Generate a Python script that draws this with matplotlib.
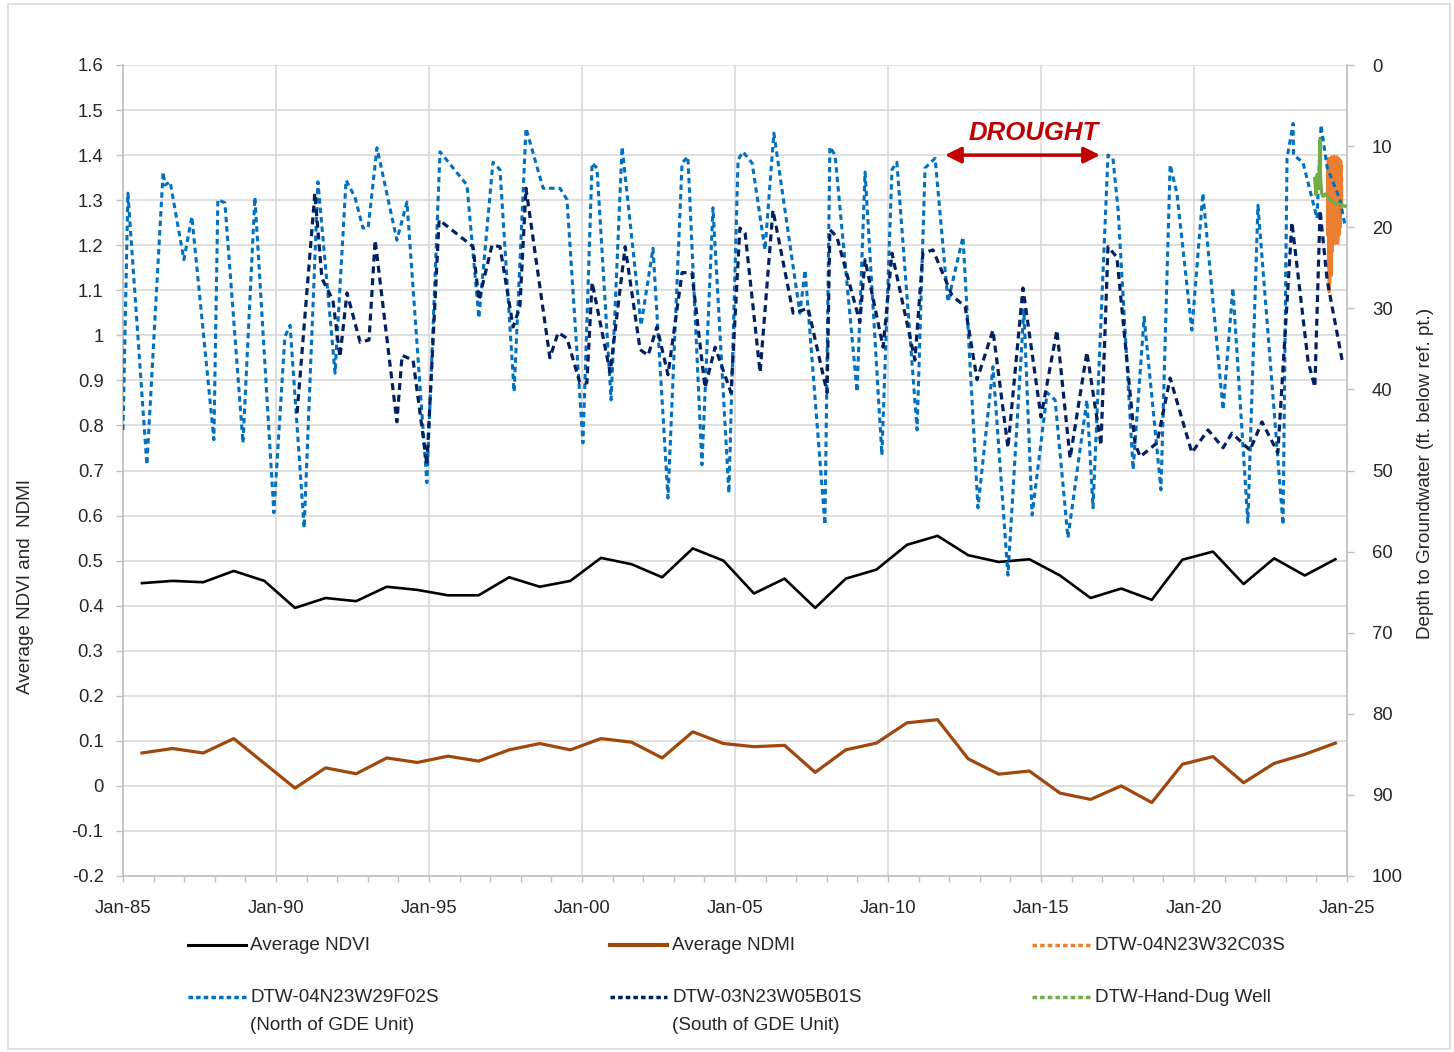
import numpy as np
import matplotlib
matplotlib.use("Agg")
import matplotlib.pyplot as plt
from matplotlib.lines import Line2D
from matplotlib.patches import Rectangle
from matplotlib.ticker import MultipleLocator, FixedLocator

# ---------------- data ----------------
years = np.arange(1985, 2025)
sample_offset = 0.62  # annual composites ~ mid/late summer

ndvi = [0.450, 0.455, 0.452, 0.477, 0.455, 0.395, 0.417, 0.410, 0.442, 0.435,
        0.423, 0.423, 0.463, 0.442, 0.455, 0.506, 0.492, 0.463, 0.527, 0.500,
        0.427, 0.460, 0.395, 0.460, 0.480, 0.535, 0.555, 0.512, 0.497, 0.503,
        0.467, 0.417, 0.438, 0.413, 0.502, 0.520, 0.448, 0.505, 0.467, 0.503]

ndmi = [0.073, 0.083, 0.073, 0.105, 0.050, -0.005, 0.040, 0.027, 0.062, 0.052,
        0.066, 0.055, 0.080, 0.094, 0.080, 0.105, 0.097, 0.062, 0.120, 0.094,
        0.087, 0.090, 0.030, 0.080, 0.095, 0.140, 0.147, 0.060, 0.026, 0.033,
        -0.016, -0.030, 0.000, -0.037, 0.048, 0.065, 0.007, 0.050, 0.070, 0.095]

north_t = [1985.00, 1985.16, 1985.78, 1986.31, 1986.37, 1986.54, 1986.99, 1987.25, 1987.97, 1988.10,
           1988.33, 1988.92, 1989.31, 1989.93, 1990.29, 1990.46, 1990.92, 1991.37, 1991.93, 1992.29,
           1992.58, 1992.84, 1993.01, 1993.30, 1993.95, 1994.28, 1994.93, 1995.36, 1996.24, 1996.63,
           1997.09, 1997.32, 1997.78, 1998.17, 1998.73, 1999.28, 1999.51, 2000.03, 2000.33, 2000.49,
           2000.95, 2001.31, 2001.93, 2002.32, 2002.81, 2003.27, 2003.46, 2003.92, 2004.28, 2004.80,
           2005.10, 2005.26, 2005.56, 2005.98, 2006.27, 2007.12, 2007.29, 2007.94, 2008.10, 2008.27,
           2008.99, 2009.25, 2009.80, 2010.13, 2010.29, 2010.95, 2011.21, 2011.54, 2011.96, 2012.45,
           2012.94, 2013.43, 2013.92, 2014.44, 2014.71, 2015.20, 2015.46, 2015.88, 2016.50, 2016.70,
           2017.19, 2017.35, 2017.52, 2018.01, 2018.37, 2018.92, 2019.22, 2019.44, 2019.93, 2020.29,
           2020.95, 2021.27, 2021.76, 2022.09, 2022.91, 2023.04, 2023.24, 2023.25, 2023.56, 2024.02,
           2024.15, 2024.35, 2024.77, 2024.93]
north_depth = [45.0, 15.8, 49.3, 13.2, 14.8, 14.4, 24.0, 18.7, 46.2, 16.6,
               17.0, 46.6, 16.3, 55.2, 33.5, 32.1, 57.1, 14.4, 38.0, 14.2,
               16.3, 20.1, 20.1, 10.2, 21.6, 16.9, 51.5, 10.7, 14.8, 31.2,
               12.0, 12.9, 40.3, 7.8, 15.2, 15.2, 16.6, 46.6, 12.1, 12.7,
               41.3, 10.1, 32.1, 22.6, 53.4, 12.1, 11.3, 49.3, 17.6, 52.8,
               11.7, 10.7, 12.1, 22.8, 8.4, 30.6, 25.3, 56.7, 10.1, 11.1,
               40.3, 13.2, 48.1, 12.9, 12.0, 45.0, 12.7, 11.5, 29.2, 21.2,
               54.6, 37.2, 62.9, 30.2, 55.5, 40.4, 41.3, 58.3, 41.3, 54.6,
               11.1, 11.5, 17.9, 49.9, 31.1, 52.4, 12.3, 15.8, 32.7, 15.8,
               42.5, 27.5, 56.4, 17.3, 56.7, 11.5, 7.2, 11.1, 12.0, 18.9,
               7.4, 12.6, 16.6, 19.7]

south_t = [1990.69, 1991.27, 1991.50, 1991.86, 1992.09, 1992.32, 1992.75, 1993.04, 1993.24, 1993.95,
           1994.12, 1994.48, 1994.93, 1995.33, 1996.44, 1996.63, 1997.06, 1997.32, 1997.75, 1997.97,
           1998.17, 1998.95, 1999.22, 1999.51, 1999.93, 2000.16, 2000.33, 2000.92, 2001.41, 2001.90,
           2002.16, 2002.45, 2002.81, 2003.27, 2003.59, 2004.02, 2004.35, 2004.87, 2005.16, 2005.33,
           2005.82, 2006.24, 2006.90, 2007.39, 2008.01, 2008.10, 2008.33, 2009.08, 2009.25, 2009.84,
           2010.13, 2010.88, 2011.14, 2011.47, 2012.09, 2012.52, 2012.91, 2013.43, 2013.92, 2014.41,
           2015.00, 2015.52, 2015.95, 2016.50, 2016.96, 2017.19, 2017.48, 2018.07, 2018.24, 2018.79,
           2019.22, 2019.93, 2020.46, 2020.95, 2021.24, 2021.83, 2022.22, 2022.74, 2023.20, 2023.73,
           2023.95, 2024.12, 2024.35, 2024.84]
south_depth = [42.9, 15.8, 26.3, 29.0, 36.0, 28.1, 34.2, 33.9, 21.6, 44.0,
               35.8, 36.4, 49.3, 19.1, 22.4, 29.0, 22.2, 22.4, 32.3, 29.8,
               15.2, 36.1, 33.0, 33.7, 39.2, 39.2, 26.8, 37.9, 22.4, 35.1,
               35.8, 32.3, 38.2, 25.6, 25.6, 39.8, 34.8, 40.4, 20.1, 20.7,
               37.9, 17.9, 30.6, 30.0, 40.4, 20.3, 21.2, 31.7, 24.0, 34.8,
               23.2, 36.4, 23.2, 22.8, 28.4, 29.8, 38.8, 32.7, 47.2, 27.5,
               43.4, 32.7, 48.5, 35.4, 46.9, 22.4, 23.7, 46.6, 48.3, 46.6,
               38.6, 47.8, 45.0, 47.2, 45.4, 47.5, 44.0, 47.8, 19.4, 36.6,
               39.7, 17.9, 26.5, 36.4]

c03s_t = [2024.360, 2024.371, 2024.382, 2024.393, 2024.404, 2024.415, 2024.426, 2024.437, 2024.448, 2024.459,
          2024.470, 2024.481, 2024.492, 2024.503, 2024.514, 2024.525, 2024.536, 2024.547, 2024.558, 2024.569,
          2024.580, 2024.591, 2024.602, 2024.613, 2024.624, 2024.635, 2024.646, 2024.657, 2024.668, 2024.679,
          2024.690, 2024.701, 2024.712, 2024.723, 2024.734, 2024.745, 2024.756, 2024.767, 2024.778, 2024.789,
          2024.800, 2024.811, 2024.822, 2024.833]
c03s_depth = [13, 21, 11.5, 25, 12, 28, 13, 27, 11.5, 24,
              12, 26, 11.3, 21, 12, 23, 11.5, 20, 12.5, 22,
              11.2, 19, 12, 22, 11.5, 18, 12, 21, 11.3, 20,
              12, 22, 11.5, 19, 12, 21, 11.6, 17, 12, 20,
              11.8, 18, 12.5, 16]

handdug_t = [2023.95, 2023.99, 2024.03, 2024.08, 2024.12, 2024.13, 2024.17, 2024.22, 2024.30, 2024.45, 2024.60, 2024.75, 2024.93]
handdug_depth = [14.0, 16.0, 13.5, 15.2, 9.2, 14.0, 15.8, 16.2, 15.9, 16.6, 17.0, 17.2, 17.4]

x_tick_years = [1985, 1990, 1995, 2000, 2005, 2010, 2015, 2020, 2025]
x_tick_labels = ["Jan-85", "Jan-90", "Jan-95", "Jan-00", "Jan-05", "Jan-10", "Jan-15", "Jan-20", "Jan-25"]

drought_start, drought_end = 2011.86, 2016.93
drought_label_x = 2014.77

legend_row1 = ["Average NDVI", "Average NDMI", "DTW-04N23W32C03S"]
legend_row2 = ["DTW-04N23W29F02S", "DTW-03N23W05B01S", "DTW-Hand-Dug Well"]
legend_row2_sub = ["(North of GDE Unit)", "(South of GDE Unit)", ""]

# ---------------- style ----------------
FONT = ["Liberation Sans", "DejaVu Sans"]
plt.rcParams["font.family"] = FONT
TXT = "#262626"
GRID = "#D9D9D9"
SPINE = "#BFBFBF"
C_NDVI = "#000000"
C_NDMI = "#9E480E"
C_NORTH = "#0070C0"
C_SOUTH = "#002060"
C_C03S = "#ED7D31"
C_HAND = "#70AD47"

W, H = 1454, 1052
fig = plt.figure(figsize=(W / 100, H / 100), dpi=100)
fig.patch.set_facecolor("white")

ax = fig.add_axes([123 / W, 1 - 876 / H, (1347 - 123) / W, 811 / H])
ax2 = ax.twinx()

# primary: vegetation indices
xs = years + sample_offset
ax.plot(xs, ndvi, color=C_NDVI, lw=1.9, zorder=3)
ax.plot(xs, ndmi, color=C_NDMI, lw=2.3, zorder=3)

ax.set_xlim(1985, 2025)
ax.set_ylim(-0.2, 1.6)
yt = np.round(np.arange(-0.2, 1.61, 0.1), 1)
ax.set_yticks(yt)
ax.set_yticklabels([("%g" % v) for v in yt])
ax.xaxis.set_major_locator(FixedLocator(x_tick_years))
ax.set_xticklabels(x_tick_labels)
ax.xaxis.set_minor_locator(MultipleLocator(1))
ax.grid(True, which="major", color=GRID, lw=1.2, zorder=0)
ax.set_axisbelow(True)

for sp in ["top", "right"]:
    ax.spines[sp].set_visible(False)
for sp in ["left", "bottom"]:
    ax.spines[sp].set_color(SPINE)
    ax.spines[sp].set_linewidth(1.2)

ax.tick_params(axis="y", which="major", length=5, width=1, color=SPINE, pad=9, labelsize=13.3, labelcolor=TXT)
ax.tick_params(axis="x", which="major", length=4, width=1, color=SPINE, pad=13, labelsize=13.3, labelcolor=TXT)
ax.tick_params(axis="x", which="minor", length=4, width=1, color=SPINE)

# secondary: depth to groundwater
ax2.plot(c03s_t, c03s_depth, color=C_C03S, lw=2.0, zorder=2)
ax2.plot(north_t, north_depth, color=C_NORTH, lw=2.2, dashes=(1.8, 1.3), zorder=3)
ax2.plot(south_t, south_depth, color=C_SOUTH, lw=2.3, dashes=(2.2, 1.5), zorder=4)
ax2.plot(handdug_t, handdug_depth, color=C_HAND, lw=2.5, zorder=5)
ax2.set_ylim(100, 0)
ax2.set_yticks(np.arange(0, 101, 10))
for sp in ["top", "left", "bottom"]:
    ax2.spines[sp].set_visible(False)
ax2.spines["right"].set_color(SPINE)
ax2.spines["right"].set_linewidth(1.2)
ax2.tick_params(axis="y", length=5, width=1, color=SPINE, pad=13, labelsize=13.3, labelcolor=TXT)

# drought annotation
ax.annotate("", xy=(drought_start, 1.4), xytext=(drought_end, 1.4),
            arrowprops=dict(arrowstyle="<|-|>", color="#C00000", lw=2.5,
                            mutation_scale=24, shrinkA=0, shrinkB=0), zorder=6)
ax.text(drought_label_x, 1.449, "DROUGHT", color="#C00000",
        fontsize=18.5, fontweight="bold", fontstyle="italic", ha="center", va="center", zorder=6)

# axis titles
fig.text(26 / W, 1 - 586 / H, "Average NDVI and  NDMI", rotation=90, ha="center", va="center",
         fontsize=13.6, color=TXT)
fig.text(1425 / W, 1 - 473 / H, "Depth to Groundwater (ft. below ref. pt.)", rotation=90,
         ha="center", va="center", fontsize=13.6, color=TXT)

# legend (drawn manually in figure coordinates)
styles = [
    dict(color=C_NDVI, lw=2.2),
    dict(color=C_NDMI, lw=3.0),
    dict(color=C_C03S, lw=2.5, dashes=(1.3, 0.9)),
    dict(color=C_NORTH, lw=2.5, dashes=(1.3, 0.9)),
    dict(color=C_SOUTH, lw=2.5, dashes=(1.3, 0.9)),
    dict(color=C_HAND, lw=2.5, dashes=(1.3, 0.9)),
]
col_x = [(188, 246, 250), (610, 667, 672), (1032, 1090, 1095)]
rows = [(945, legend_row1, ["", "", ""]), (997, legend_row2, legend_row2_sub)]
k = 0
for ry, labels, subs in rows:
    for (x0, x1, tx), lab, sub in zip(col_x, labels, subs):
        fig.add_artist(Line2D([x0 / W, x1 / W], [1 - ry / H, 1 - ry / H],
                              transform=fig.transFigure, **styles[k]))
        fig.text(tx / W, 1 - ry / H, lab, ha="left", va="center", fontsize=13.6, color=TXT)
        if sub:
            fig.text(tx / W, 1 - (ry + 28) / H, sub, ha="left", va="center", fontsize=13.6, color=TXT)
        k += 1

# chart-area border
fig.add_artist(Rectangle((8 / W, 3 / H), (1450 - 8) / W, (1048 - 3) / H, transform=fig.transFigure,
                         fill=False, edgecolor=GRID, lw=1.2))

fig.savefig("out.png", dpi=100, facecolor="white")
